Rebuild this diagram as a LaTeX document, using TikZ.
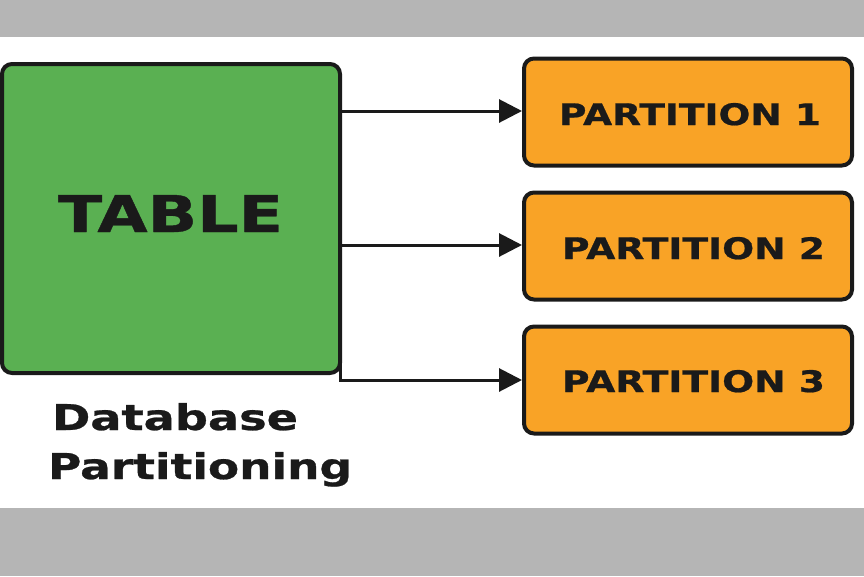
\documentclass[tikz,border=0pt]{standalone}
\usepackage{fontspec}
\setmainfont{DejaVu Sans}[BoldFeatures={FakeBold=0.7}]
\usepackage{graphicx}
\usetikzlibrary{arrows.meta}
\definecolor{bandgray}{HTML}{B5B5B5}
\definecolor{boxgreen}{HTML}{5AB052}
\definecolor{boxorange}{HTML}{F9A326}
\definecolor{ink}{HTML}{1A1A1A}
\tikzset{
  boxbase/.style={draw=ink, line width=4pt, rounded corners=10pt, inner sep=0pt},
  greenbox/.style={boxbase, fill=boxgreen, minimum width=338pt, minimum height=309pt},
  orangebox/.style={boxbase, fill=boxorange, minimum width=328pt, minimum height=107pt},
  lbl/.style={inner sep=0pt, anchor=base, text=ink, font=\bfseries},
  arr/.style={draw=ink, line width=3pt, -{Triangle[length=23pt,width=23pt]}}
}
\begin{document}
\begin{tikzpicture}[x=1pt,y=-1pt]
\useasboundingbox (0,0) rectangle (864,576);
\fill[bandgray] (0,0) rectangle (864,37);
\fill[bandgray] (0,508) rectangle (864,576);
\node[greenbox] (tbl) at (171,218.5) {};
\node[orangebox] (p1) at (688,112) {};
\node[orangebox] (p2) at (688,246) {};
\node[orangebox] (p3) at (688,380) {};
\coordinate (c3) at (340.5,360);
\draw[arr] (tbl.east |- 0,111) -- (p1.west |- 0,111);
\draw[arr] (tbl.east |- 0,245) -- (p2.west |- 0,245);
\draw[arr] (c3) |- (p3.west);
\node[lbl] (tblT) at (170.5,232) {\resizebox{225pt}{37pt}{TABLE}};
\node[lbl] (p1T) at (690,125) {\resizebox{262pt}{22pt}{PARTITION 1}};
\node[lbl] (p2T) at (693.5,259) {\resizebox{263pt}{22pt}{PARTITION 2}};
\node[lbl] (p3T) at (693.5,392) {\resizebox{263pt}{22pt}{PARTITION 3}};
\node[lbl] (cap1) at (175,430) {\resizebox{246pt}{27pt}{Database}};
\node[lbl] (cap2) at (200,479) {\resizebox{304pt}{27pt}{Partitioning}};
\end{tikzpicture}
\end{document}
